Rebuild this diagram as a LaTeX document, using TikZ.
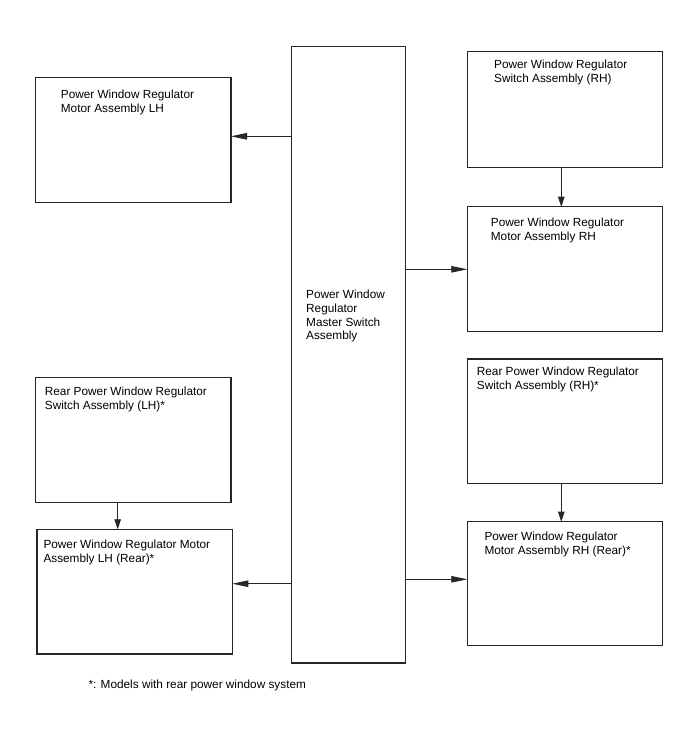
\documentclass[tikz,border=0pt]{standalone}
\usepackage{fontspec}
\setmainfont{Liberation Sans}
\usetikzlibrary{arrows.meta}
\begin{document}
\begin{tikzpicture}[x=1pt,y=-1pt,
  box/.style={draw=black!85,line width=1.1pt,inner sep=0pt,outer sep=0pt},
  txt/.style={anchor=north west,inner sep=0pt,align=left,font=\fontsize{11.8}{13.7}\selectfont},
  harr/.style={draw=black!85,line width=0.8pt,-{Triangle[length=16pt,width=6.5pt]}},
  varr/.style={draw=black!85,line width=0.8pt,-{Triangle[length=10pt,width=6.5pt]}}]
\useasboundingbox (0,0) rectangle (688,755);
% boxes
\node[box,minimum width=113.8pt,minimum height=616.3pt] (master) at (348.6,354.85) {};
\node[box,minimum width=195.3pt,minimum height=125pt] (lhm) at (133.35,140.2) {};
\node[box,minimum width=195pt,minimum height=115.6pt] (rhs) at (564.8,109.5) {};
\node[box,minimum width=195pt,minimum height=125pt] (rhm) at (564.8,269.2) {};
\node[box,minimum width=195.3pt,minimum height=124.6pt] (rls) at (133.35,440) {};
\node[box,minimum width=195.3pt,minimum height=124.7pt] (lrm) at (134.65,591.65) {};
\node[box,minimum width=195pt,minimum height=124.3pt] (rrs) at (564.8,421.15) {};
\node[box,minimum width=195pt,minimum height=124pt] (rrm) at (564.8,583.7) {};
% texts
\node[txt] (tmaster) at (306,290) {Power Window\\Regulator\\Master Switch\\Assembly};
\node[txt] (tlhm) at (60.7,90) {Power Window Regulator\\Motor Assembly LH};
\node[txt] (trhs) at (494,60) {Power Window Regulator\\Switch Assembly (RH)};
\node[txt] (trhm) at (490.7,217.7) {Power Window Regulator\\Motor Assembly RH};
\node[txt] (trls) at (44.7,386.7) {Rear Power Window Regulator\\Switch Assembly (LH)*};
\node[txt] (tlrm) at (43.3,540) {Power Window Regulator Motor\\Assembly LH (Rear)*};
\node[txt] (trrs) at (476.7,366.7) {Rear Power Window Regulator\\Switch Assembly (RH)*};
\node[txt] (trrm) at (484.3,531.7) {Power Window Regulator\\Motor Assembly RH (Rear)*};
\node[txt] (note) at (88.3,680) {*: Models with rear power window system};
% connector levels
\coordinate (y1) at (0,136.3);
\coordinate (y2) at (0,269.3);
\coordinate (y3) at (0,583.7);
\coordinate (y4) at (0,579.3);
\coordinate (xr) at (561.3,0);
\coordinate (xl) at (117.7,0);
% connectors
\draw[harr] (master.west |- y1) -- (lhm.east |- y1);
\draw[harr] (master.east |- y2) -- (rhm.west |- y2);
\draw[harr] (master.west |- y3) -- (lrm.east |- y3);
\draw[harr] (master.east |- y4) -- (rrm.west |- y4);
\draw[varr] (rhs.south -| xr) -- (rhm.north -| xr);
\draw[varr] (rrs.south -| xr) -- (rrm.north -| xr);
\draw[varr] (rls.south -| xl) -- (lrm.north -| xl);
\end{tikzpicture}
\end{document}
